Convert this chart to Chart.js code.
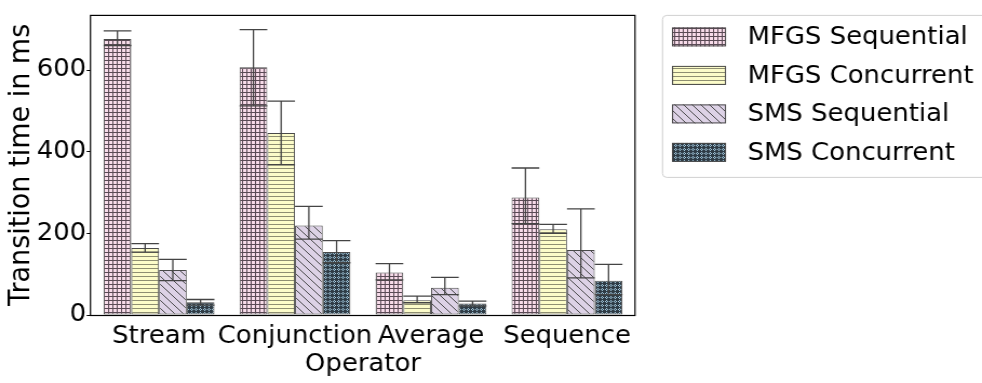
<!DOCTYPE html>
<html>
<head>
<meta charset="utf-8">
<script src="https://cdn.jsdelivr.net/npm/chart.js@4.4.0/dist/chart.umd.min.js"></script>
<style>
  html, body { margin: 0; padding: 0; background: #ffffff; overflow: hidden; }
  #wrap { width: 982px; height: 383px; position: relative; overflow: hidden; }
  /* the figure is drawn slightly narrower and widened to the full page width */
  #c { position: absolute; left: 0; top: 0; transform-origin: 0 0; }
</style>
</head>
<body>
<div id="wrap"><canvas id="c"></canvas></div>
<script>
// Operators on the x axis
const operators = ['Stream', 'Conjunction', 'Average', 'Sequence'];
const seriesNames = ['MFGS Sequential', 'MFGS Concurrent', 'SMS Sequential', 'SMS Concurrent'];

// Mean transition time (ms) and confidence interval bounds per series
const mfgsSeq     = [676, 607, 104, 288];
const mfgsSeqLow  = [660, 512, 86, 224];
const mfgsSeqHigh = [696, 699, 126, 360];

const mfgsCon     = [164, 446, 36, 210];
const mfgsConLow  = [154, 368, 30, 200];
const mfgsConHigh = [175, 524, 46, 222];

const smsSeq     = [110, 219, 67, 159];
const smsSeqLow  = [84, 186, 50, 91];
const smsSeqHigh = [136, 266, 92, 260];

const smsCon     = [31, 154, 28, 84];
const smsConLow  = [24, 128, 22, 50];
const smsConHigh = [38, 182, 34, 124];

const yTicks = [0, 200, 400, 600];
const yMax = 735;

const FONT = 'DejaVu Sans';
const PAGE_W = 982, PAGE_H = 383;
const STRETCH = 1.08;                       // horizontal widening of the figure
const W = Math.round(PAGE_W / STRETCH);     // drawing width before widening
const sx = PAGE_W / W;
const X = (px) => px / sx;                  // page x -> drawing x

const canvas = document.getElementById('c');
canvas.width = W; canvas.height = PAGE_H;
canvas.style.width = W + 'px'; canvas.style.height = PAGE_H + 'px';
canvas.style.transform = 'scaleX(' + sx + ')';
const ctx = canvas.getContext('2d');

// ---- hatch patterns ----
function tile(w, h, draw) {
  const c = document.createElement('canvas');
  c.width = w; c.height = h;
  const g = c.getContext('2d');
  draw(g, w, h);
  return c;
}
const gridTile = tile(4, 4, (g) => {
  g.fillStyle = '#f7dbe9'; g.fillRect(0, 0, 4, 4);
  g.fillStyle = '#5a4a55'; g.fillRect(0, 0, 4, 1); g.fillRect(0, 0, 1, 4);
});
const hlineTile = tile(4, 4, (g) => {
  g.fillStyle = '#fcfcc9'; g.fillRect(0, 0, 4, 4);
  g.fillStyle = '#8e8e72'; g.fillRect(0, 0, 4, 1);
});
const diagTile = tile(8, 8, (g) => {
  g.fillStyle = '#ddd2e6'; g.fillRect(0, 0, 8, 8);
  g.strokeStyle = '#3a3a3a'; g.lineWidth = 0.9;
  for (const off of [-8, 0, 8]) {
    g.beginPath(); g.moveTo(off - 1, -1); g.lineTo(off + 9, 9); g.stroke();
  }
});
const dotTile = tile(4, 4, (g) => {
  g.fillStyle = '#2f3c46'; g.fillRect(0, 0, 4, 4);
  g.fillStyle = '#a3c9de';
  g.fillRect(1, 0, 1, 1); g.fillRect(0, 1, 1, 1); g.fillRect(2, 1, 1, 1); g.fillRect(1, 2, 1, 1);
});

const fills = [
  ctx.createPattern(gridTile, 'repeat'),
  ctx.createPattern(hlineTile, 'repeat'),
  ctx.createPattern(diagTile, 'repeat'),
  ctx.createPattern(dotTile, 'repeat')
];

const means = [mfgsSeq, mfgsCon, smsSeq, smsCon];
const lows  = [mfgsSeqLow, mfgsConLow, smsSeqLow, smsConLow];
const highs = [mfgsSeqHigh, mfgsConHigh, smsSeqHigh, smsConHigh];

const datasets = seriesNames.map((name, i) => ({
  label: name,
  data: means[i],
  backgroundColor: fills[i],
  borderColor: '#4a4a4a',
  borderWidth: 1,
  borderSkipped: false,
  barPercentage: 1.0,
  categoryPercentage: 0.815,
  ciLow: lows[i],
  ciHigh: highs[i]
}));

// Confidence interval whiskers with caps
const errorBars = {
  id: 'errorBars',
  afterDatasetsDraw(chart) {
    const y = chart.scales.y;
    const g = chart.ctx;
    g.save();
    g.strokeStyle = '#444444';
    g.lineWidth = 1.3;
    chart.data.datasets.forEach((ds, i) => {
      const meta = chart.getDatasetMeta(i);
      meta.data.forEach((bar, j) => {
        const x = bar.x;
        const half = bar.width / 2;
        const yHi = y.getPixelForValue(ds.ciHigh[j]);
        const yLo = y.getPixelForValue(ds.ciLow[j]);
        g.beginPath();
        g.moveTo(x, yHi); g.lineTo(x, yLo);
        g.moveTo(x - half, yHi); g.lineTo(x + half, yHi);
        g.moveTo(x - half, yLo); g.lineTo(x + half, yLo);
        g.stroke();
      });
    });
    g.restore();
  }
};

// Box around the plotting area
const frame = {
  id: 'frame',
  afterDraw(chart) {
    const a = chart.chartArea;
    const g = chart.ctx;
    g.save();
    g.strokeStyle = '#000000';
    g.lineWidth = 1.2;
    g.strokeRect(a.left - 0.5, a.top + 0.5, a.right - a.left + 0.5, a.bottom - a.top);
    g.restore();
  }
};

// Legend box to the right of the plot
const sideLegend = {
  id: 'sideLegend',
  afterDraw(chart) {
    const g = chart.ctx;
    const a = chart.chartArea;
    const boxX = X(662.5), boxY = a.top + 0.5, boxW = 340, boxH = 162, r = 4;
    g.save();
    g.fillStyle = 'rgba(255,255,255,0.8)';
    g.strokeStyle = '#d0d0d0';
    g.lineWidth = 1;
    g.beginPath();
    g.moveTo(boxX + r, boxY);
    g.lineTo(boxX + boxW - r, boxY);
    g.arcTo(boxX + boxW, boxY, boxX + boxW, boxY + r, r);
    g.lineTo(boxX + boxW, boxY + boxH - r);
    g.arcTo(boxX + boxW, boxY + boxH, boxX + boxW - r, boxY + boxH, r);
    g.lineTo(boxX + r, boxY + boxH);
    g.arcTo(boxX, boxY + boxH, boxX, boxY + boxH - r, r);
    g.lineTo(boxX, boxY + r);
    g.arcTo(boxX, boxY, boxX + r, boxY, r);
    g.closePath();
    g.fill();
    g.stroke();

    g.font = '24px "' + FONT + '"';
    g.textBaseline = 'middle';
    g.textAlign = 'left';
    chart.data.datasets.forEach((ds, i) => {
      const cy = boxY + 21.5 + i * 38.5;
      const px = X(672), pw = X(726) - X(672), ph = 19;
      g.fillStyle = ds.backgroundColor;
      g.fillRect(px, cy - ph / 2, pw, ph);
      g.strokeStyle = '#4a4a4a';
      g.strokeRect(px + 0.5, cy - ph / 2 + 0.5, pw - 1, ph - 1);
      g.fillStyle = '#000000';
      g.fillText(ds.label, X(747.5), cy + 1);
    });
    g.restore();
  }
};

new Chart(ctx, {
  type: 'bar',
  data: { labels: operators, datasets },
  plugins: [errorBars, frame, sideLegend],
  options: {
    responsive: false,
    animation: false,
    devicePixelRatio: 1,
    layout: { padding: { top: 9, right: W - X(635), bottom: 0, left: 0 } },
    plugins: { legend: { display: false }, tooltip: { enabled: false } },
    scales: {
      x: {
        type: 'category',
        offset: true,
        grid: { display: false },
        border: { display: false },
        ticks: { color: '#000', font: { family: FONT, size: 24 }, padding: -1, maxRotation: 0, autoSkip: false },
        title: { display: true, text: 'Operator', color: '#000', font: { family: FONT, size: 24 }, padding: { top: 0, bottom: 4 } },
        afterFit(scale) { scale.height = 68; }
      },
      y: {
        min: 0,
        max: yMax,
        grid: { drawOnChartArea: false, drawTicks: true, tickLength: 4, color: '#000' },
        border: { display: false },
        afterBuildTicks(scale) { scale.ticks = yTicks.map(v => ({ value: v })); },
        ticks: { color: '#000', font: { family: FONT, size: 24 }, padding: 0.5 },
        title: { display: true, text: 'Transition time in ms', color: '#000', font: { family: FONT, size: 27 }, padding: { top: 4, bottom: 0 } },
        afterFit(scale) { scale.width = X(91); }
      }
    }
  }
});
</script>
</body>
</html>
